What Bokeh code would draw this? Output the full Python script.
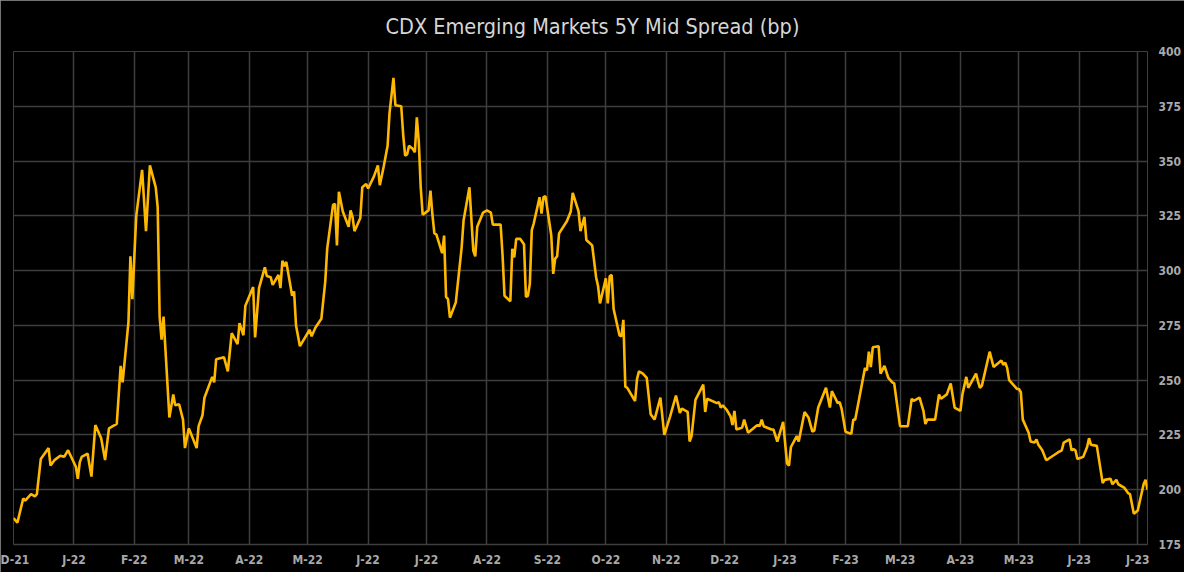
import pandas as pd
from bokeh.plotting import figure
from bokeh.models import Range1d, FixedTicker, Label
from bokeh.embed import file_html
from bokeh.resources import INLINE

title_text = "CDX Emerging Markets 5Y Mid Spread (bp)"

dates = [
    "2021-12-01", "2021-12-03", "2021-12-06", "2021-12-07", "2021-12-10", "2021-12-12", "2021-12-13",
    "2021-12-15", "2021-12-19", "2021-12-20", "2021-12-22", "2021-12-25", "2021-12-27", "2021-12-29",
    "2022-01-02", "2022-01-03", "2022-01-04", "2022-01-05", "2022-01-08", "2022-01-10", "2022-01-12",
    "2022-01-15", "2022-01-17", "2022-01-19", "2022-01-23", "2022-01-25", "2022-01-26", "2022-01-29",
    "2022-01-30", "2022-01-31",
    "2022-02-02", "2022-02-05", "2022-02-07", "2022-02-09", "2022-02-12", "2022-02-13", "2022-02-14",
    "2022-02-15", "2022-02-16", "2022-02-19", "2022-02-21", "2022-02-22", "2022-02-24", "2022-02-26",
    "2022-02-27",
    "2022-03-01", "2022-03-05", "2022-03-06", "2022-03-08", "2022-03-09", "2022-03-13", "2022-03-14",
    "2022-03-15", "2022-03-19", "2022-03-21", "2022-03-23", "2022-03-26", "2022-03-27", "2022-03-29",
    "2022-03-30",
    "2022-04-03", "2022-04-04", "2022-04-06", "2022-04-09", "2022-04-10", "2022-04-12", "2022-04-13",
    "2022-04-16", "2022-04-17", "2022-04-18", "2022-04-19", "2022-04-20", "2022-04-23", "2022-04-24",
    "2022-04-25", "2022-04-27",
    "2022-05-02", "2022-05-03", "2022-05-05", "2022-05-08", "2022-05-10", "2022-05-11", "2022-05-14",
    "2022-05-15", "2022-05-16", "2022-05-17", "2022-05-19", "2022-05-22", "2022-05-23", "2022-05-24",
    "2022-05-25", "2022-05-28", "2022-05-29", "2022-05-31",
    "2022-06-01", "2022-06-04", "2022-06-06", "2022-06-07", "2022-06-09", "2022-06-11", "2022-06-12",
    "2022-06-14", "2022-06-15", "2022-06-18", "2022-06-19", "2022-06-20", "2022-06-21", "2022-06-22",
    "2022-06-24", "2022-06-25", "2022-06-26", "2022-06-27", "2022-06-28", "2022-06-29",
    "2022-07-02", "2022-07-03", "2022-07-04", "2022-07-05", "2022-07-06", "2022-07-09", "2022-07-10",
    "2022-07-11", "2022-07-12", "2022-07-13", "2022-07-16", "2022-07-19", "2022-07-20", "2022-07-23",
    "2022-07-25", "2022-07-26", "2022-07-27", "2022-07-30",
    "2022-08-01", "2022-08-03", "2022-08-04", "2022-08-08", "2022-08-09", "2022-08-10", "2022-08-13",
    "2022-08-14", "2022-08-15", "2022-08-16", "2022-08-18", "2022-08-20", "2022-08-21", "2022-08-22",
    "2022-08-23", "2022-08-24", "2022-08-25", "2022-08-28", "2022-08-29", "2022-08-30", "2022-08-31",
    "2022-09-03", "2022-09-04", "2022-09-05", "2022-09-06", "2022-09-07", "2022-09-11", "2022-09-13",
    "2022-09-14", "2022-09-17", "2022-09-18", "2022-09-20", "2022-09-21", "2022-09-24", "2022-09-26",
    "2022-09-27", "2022-09-28",
    "2022-10-01", "2022-10-02", "2022-10-03", "2022-10-04", "2022-10-05", "2022-10-08", "2022-10-09",
    "2022-10-10", "2022-10-11", "2022-10-12", "2022-10-16", "2022-10-17", "2022-10-18", "2022-10-20",
    "2022-10-22", "2022-10-24", "2022-10-26", "2022-10-29", "2022-10-31",
    "2022-11-03", "2022-11-06", "2022-11-08", "2022-11-09", "2022-11-12", "2022-11-13", "2022-11-14",
    "2022-11-16", "2022-11-20", "2022-11-21", "2022-11-22", "2022-11-27", "2022-11-28", "2022-11-29",
    "2022-11-30",
    "2022-12-02", "2022-12-04", "2022-12-05", "2022-12-06", "2022-12-07", "2022-12-09", "2022-12-10",
    "2022-12-11", "2022-12-13", "2022-12-17", "2022-12-18", "2022-12-19", "2022-12-20", "2022-12-21",
    "2022-12-25", "2022-12-26", "2022-12-28", "2022-12-31",
    "2023-01-02", "2023-01-03", "2023-01-04", "2023-01-07", "2023-01-08", "2023-01-11", "2023-01-13",
    "2023-01-15", "2023-01-16", "2023-01-18", "2023-01-22", "2023-01-24", "2023-01-25", "2023-01-28",
    "2023-01-29", "2023-01-30",
    "2023-02-01", "2023-02-04", "2023-02-05", "2023-02-06", "2023-02-11", "2023-02-12", "2023-02-13",
    "2023-02-14", "2023-02-15", "2023-02-18", "2023-02-19", "2023-02-21", "2023-02-23", "2023-02-25",
    "2023-02-26",
    "2023-03-01", "2023-03-05", "2023-03-07", "2023-03-08", "2023-03-11", "2023-03-13", "2023-03-14",
    "2023-03-15", "2023-03-19", "2023-03-21", "2023-03-22", "2023-03-25", "2023-03-27", "2023-03-29",
    "2023-04-01", "2023-04-02", "2023-04-04", "2023-04-05", "2023-04-09", "2023-04-10", "2023-04-11",
    "2023-04-12", "2023-04-16", "2023-04-18", "2023-04-22", "2023-04-23", "2023-04-24", "2023-04-25",
    "2023-04-26", "2023-04-30",
    "2023-05-01", "2023-05-02", "2023-05-03", "2023-05-06", "2023-05-07", "2023-05-09", "2023-05-10",
    "2023-05-11", "2023-05-13", "2023-05-15", "2023-05-16", "2023-05-21", "2023-05-22", "2023-05-23",
    "2023-05-24", "2023-05-27", "2023-05-28", "2023-05-29", "2023-05-30", "2023-05-31",
    "2023-06-03", "2023-06-05", "2023-06-06", "2023-06-07", "2023-06-10", "2023-06-13", "2023-06-14",
    "2023-06-17", "2023-06-18", "2023-06-20", "2023-06-21", "2023-06-24", "2023-06-26", "2023-06-27",
    "2023-06-29",
    "2023-07-01", "2023-07-04", "2023-07-05", "2023-07-06",
]

spreads = [
    187.1, 185.0, 196.0, 195.0, 198.0, 197.0, 198.0,
    214.0, 219.0, 211.0, 213.5, 215.5, 215.0, 218.0,
    210.5, 205.0, 212.5, 215.0, 216.5, 206.0, 229.5,
    223.5, 213.5, 228.0, 230.0, 256.5, 249.0, 276.5,
    306.5, 287.0,
    325.0, 346.0, 318.0, 348.0, 338.0, 329.0, 279.0,
    268.5, 279.0, 233.0, 243.5, 238.5, 239.0, 232.0,
    219.0,
    228.0, 219.0, 229.0, 234.0, 242.0, 251.5, 249.0,
    259.5, 260.5, 254.0, 271.5, 266.5, 276.0, 270.5,
    284.0,
    292.5, 269.5, 292.0, 301.5, 297.5, 297.0, 293.5,
    298.0, 292.0, 304.5, 302.0, 304.0, 288.5, 290.5,
    275.0, 265.5,
    273.0, 270.0, 274.0, 278.0, 295.0, 310.0, 330.0,
    330.5, 311.5, 336.0, 327.0, 320.0, 327.5, 324.5,
    318.0, 324.0, 338.0, 339.5,
    337.5, 343.0, 348.0, 339.0, 347.5, 357.0, 372.0,
    388.0, 375.5, 375.0, 362.0, 352.5, 353.0, 357.0,
    355.5, 354.0, 370.0, 359.0, 338.0, 325.5,
    327.5, 336.5, 325.5, 317.0, 316.5, 308.0, 316.0,
    288.0, 287.0, 278.5, 285.5, 310.5, 323.0, 338.0,
    309.0, 306.5, 320.0, 326.5,
    327.5, 326.5, 321.0, 321.0, 307.0, 288.5, 286.0,
    310.0, 306.0, 314.5, 314.5, 312.0, 288.0, 288.5,
    294.0, 318.5, 321.5, 333.5, 326.0, 333.5, 334.0,
    316.0, 298.5, 305.5, 306.5, 317.0, 322.5, 327.0,
    335.5, 327.0, 318.0, 324.5, 314.0, 311.5, 297.0,
    293.0, 285.0,
    296.5, 285.0, 297.5, 298.0, 282.5, 270.5, 270.0,
    277.5, 247.0, 246.5, 240.5, 250.5, 254.0, 253.0,
    251.0, 234.5, 232.0, 242.0, 225.0,
    233.5, 243.0, 235.0, 237.0, 235.5, 222.0, 224.5,
    241.0, 248.0, 235.5, 241.5, 239.5, 240.0, 237.5,
    238.5,
    236.5, 233.5, 229.5, 236.0, 227.5, 228.0, 228.5,
    232.0, 226.0, 229.0, 229.5, 229.0, 232.0, 229.0,
    227.5, 227.5, 222.0, 231.0,
    212.0, 211.0, 219.5, 224.5, 222.0, 235.5, 233.0,
    226.5, 227.0, 237.5, 246.5, 237.5, 245.0, 239.5,
    240.0, 237.0,
    226.5, 225.5, 232.0, 232.0, 255.5, 254.5, 263.0,
    256.0, 265.0, 265.5, 253.0, 256.5, 251.0, 249.0,
    248.5,
    229.0, 229.0, 241.5, 240.5, 242.0, 236.0, 230.0,
    232.0, 232.0, 243.5, 241.5, 243.5, 248.5, 237.5,
    236.0, 243.5, 251.5, 246.5, 253.0, 249.5, 246.5,
    247.5, 263.0, 256.0, 259.0, 257.0, 258.0, 255.5,
    250.0, 246.0,
    246.0, 244.5, 232.0, 226.0, 222.0, 221.5, 223.0,
    220.5, 218.0, 213.5, 214.0, 217.0, 217.5, 218.0,
    221.5, 223.0, 218.0, 218.5, 218.0, 214.0,
    215.0, 219.5, 223.5, 220.5, 220.0, 203.0, 204.5,
    205.0, 202.5, 204.5, 202.5, 201.0, 198.5, 198.0,
    189.0,
    190.5, 202.5, 204.5, 200.0,
]

tick_dates = [
    "2021-12-01", "2022-01-01", "2022-02-01", "2022-03-01", "2022-04-01", "2022-05-01",
    "2022-06-01", "2022-07-01", "2022-08-01", "2022-09-01", "2022-10-01", "2022-11-01",
    "2022-12-01", "2023-01-01", "2023-02-01", "2023-03-01", "2023-04-01", "2023-05-01",
    "2023-06-01", "2023-07-01",
]
tick_labels = [
    "D-21", "J-22", "F-22", "M-22", "A-22", "M-22", "J-22", "J-22", "A-22", "S-22",
    "O-22", "N-22", "D-22", "J-23", "F-23", "M-23", "A-23", "M-23", "J-23", "J-23",
]
y_ticks = [175, 200, 225, 250, 275, 300, 325, 350, 375, 400]

FONT = "'Liberation Sans Narrow', 'DejaVu Sans Condensed', 'Roboto', sans-serif"
GRID = "#3e3e3e"
LABEL = "#a9a9a9"
LINE = "#FFB800"

x = [pd.Timestamp(d).to_pydatetime() for d in dates]
tick_ms = [int(pd.Timestamp(d).value // 10**6) for d in tick_dates]

p = figure(
    width=1184, height=572,
    x_axis_type="datetime", y_axis_location="right",
    x_range=Range1d(x[0], x[-1]), y_range=Range1d(y_ticks[0], y_ticks[-1]),
    output_backend="svg", toolbar_location=None,
    background_fill_color="#000000", border_fill_color="#000000",
    outline_line_color=None,
    min_border_left=13, min_border_right=37, min_border_top=48, min_border_bottom=28,
    title=title_text,
)
p.styles = {"outline": "2px solid #9a9a9a", "outline-offset": "-2px"}

p.title.align = "left"
p.title.offset = 372
p.title.vertical_align = "middle"
p.title.standoff = 24
p.title.text_color = "#d6d6d6"
p.title.text_font = FONT
p.title.text_font_size = "21.5px"
p.title.text_font_style = "normal"

p.line(x, spreads, line_color=LINE, line_width=2.6)

xt = FixedTicker(ticks=tick_ms)
p.xaxis.ticker = xt
p.xgrid.ticker = xt
p.xaxis.major_label_overrides = dict(zip(tick_ms, tick_labels))

yt = FixedTicker(ticks=y_ticks)
p.yaxis.ticker = yt
p.ygrid.ticker = yt

for ax in (p.xaxis[0], p.yaxis[0]):
    ax.major_tick_line_color = None
    ax.minor_tick_line_color = None
    ax.major_tick_out = 0
    ax.major_label_text_color = LABEL
    ax.major_label_text_font = FONT
    ax.major_label_text_font_size = "12px"
    ax.major_label_text_font_style = "bold"

p.xaxis.axis_line_color = GRID
p.xaxis.axis_line_width = 1.5
p.xaxis.major_label_standoff = 8
p.yaxis.axis_line_color = None
p.yaxis.major_label_standoff = 11

p.grid.grid_line_color = GRID
p.grid.grid_line_width = 1.5

# last-value marker on the right scale, drawn over the regular tick label
last = Label(
    x=x[-1], y=spreads[-1], x_offset=11, text=f"{spreads[-1]:.0f}",
    text_color="#ffff33", text_font=FONT, text_font_size="12px",
    text_font_style="bold", text_baseline="middle", text_align="left",
    level="overlay",
)
p.add_layout(last)

open("out.html", "w").write(file_html(p, INLINE))
